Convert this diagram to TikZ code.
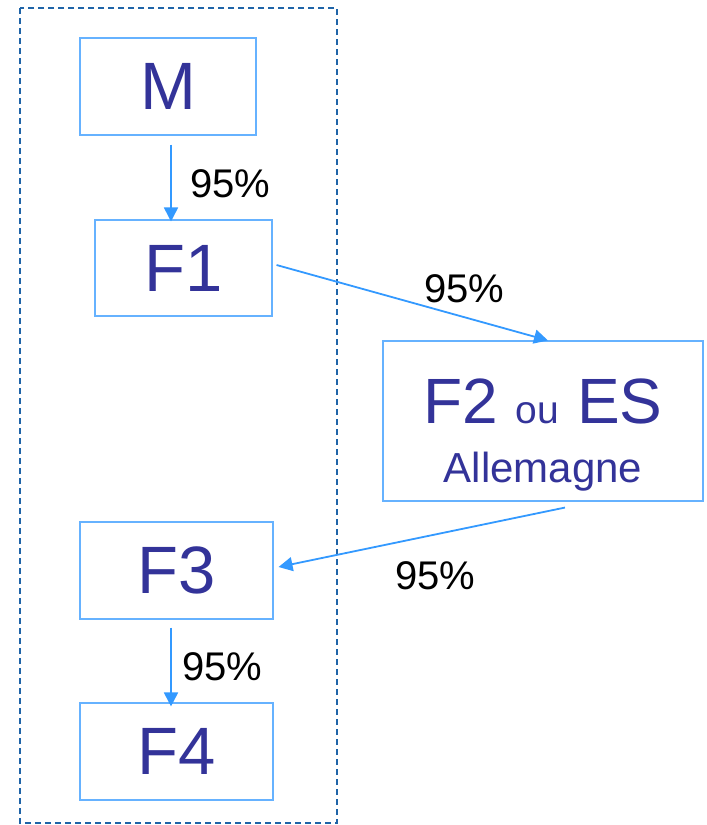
\documentclass[tikz,border=0pt]{standalone}
\usepackage{fontspec}
\setmainfont{Liberation Sans}
\usetikzlibrary{arrows.meta,calc}
\definecolor{txtblue}{HTML}{333399}
\definecolor{boxblue}{HTML}{66B2FF}
\definecolor{arrblue}{HTML}{3399FF}
\definecolor{dashblue}{HTML}{1F64A8}
\begin{document}
\begin{tikzpicture}[x=1pt,y=1pt,
  stagebox/.style={draw=boxblue,line width=1.1pt,inner sep=0pt,text=txtblue,font=\fontsize{67}{67}\selectfont},
  flow/.style={draw=arrblue,line width=1.8pt,-{Triangle[length=14pt,width=14pt]}},
  pct/.style={anchor=base west,inner sep=0pt,font=\fontsize{40}{40}\selectfont,text=black}]
\useasboundingbox (0,0) rectangle (707,-825);
\draw[dashblue,line width=1.5pt,dash pattern=on 6pt off 4pt] (20,-8) rectangle (337,-823);
\node[stagebox,minimum width=176pt,minimum height=97pt] (M) at (168,-86.5) {M};
\node[stagebox,minimum width=177pt,minimum height=96pt] (F1) at (183.5,-268) {F1};
\node[stagebox,minimum width=320pt,minimum height=160pt] (F2) at (543,-421) {};
\node[anchor=base,inner sep=0pt,text=txtblue,font=\fontsize{64}{64}\selectfont] (F2t) at (543,-423) {F2 {\fontsize{39}{39}\selectfont ou} ES};
\node[anchor=base,inner sep=0pt,text=txtblue,font=\fontsize{42}{42}\selectfont] (F2a) at (543,-482) {Allemagne};
\node[stagebox,minimum width=193pt,minimum height=97pt] (F3) at (176.5,-570.5) {F3};
\node[stagebox,minimum width=193pt,minimum height=97pt] (F4) at (176.5,-751.5) {F4};
\draw[flow] ([xshift=3pt,yshift=-9pt]M.south) -- ([xshift=-12.5pt,yshift=-2pt]F1.north);
\draw[flow] ([xshift=4pt,yshift=3pt]F1.east) -- ([xshift=5pt]F2.north);
\draw[flow] ([xshift=22pt,yshift=-6pt]F2.south) -- ([xshift=5pt,yshift=3.5pt]F3.east);
\draw[flow] ([xshift=-5.5pt,yshift=-8pt]F3.south) -- ([xshift=-5.5pt,yshift=-4pt]F4.north);
\node[pct] (p1) at (190,-197) {95\%};
\node[pct] (p2) at (424,-302) {95\%};
\node[pct] (p3) at (395,-589) {95\%};
\node[pct] (p4) at (182,-680) {95\%};
\end{tikzpicture}
\end{document}
